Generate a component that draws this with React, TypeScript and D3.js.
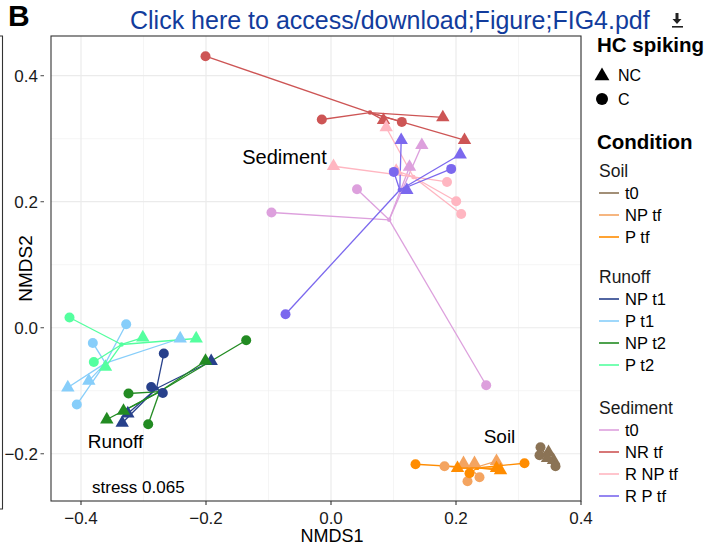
import React from "react";
import * as d3 from "d3";

// ---- Data: [NMDS1, NMDS2, HC spiking] per group ----
const soilT0: [number, number, string][] = [
  [0.3352, -0.1897, "C"], [0.3336, -0.2024, "C"], [0.348, -0.1976, "NC"],
  [0.356, -0.2103, "NC"], [0.3592, -0.2198, "C"], [0.3464, -0.2071, "NC"],
];
const soilNPtf: [number, number, string][] = [
  [0.1816, -0.2198, "C"], [0.212, -0.2151, "NC"], [0.2296, -0.2151, "NC"],
  [0.2184, -0.2437, "C"], [0.2376, -0.2373, "C"], [0.2648, -0.2119, "NC"],
];
const soilPtf: [number, number, string][] = [
  [0.1352, -0.2167, "C"], [0.2024, -0.223, "NC"], [0.2216, -0.231, "C"],
  [0.2648, -0.223, "NC"], [0.2712, -0.2262, "NC"], [0.3096, -0.2151, "C"],
];
const runoffNPt1: [number, number, string][] = [
  [-0.2675, -0.041, "C"], [-0.2877, -0.094, "C"], [-0.2691, -0.1035, "C"],
  [-0.1917, -0.0532, "NC"], [-0.3251, -0.1362, "NC"], [-0.3341, -0.1511, "NC"],
];
const runoffPt1: [number, number, string][] = [
  [-0.3277, 0.0056, "C"], [-0.3811, -0.0241, "C"], [-0.2413, -0.0171, "NC"],
  [-0.4211, -0.0949, "NC"], [-0.3875, -0.0844, "NC"], [-0.4067, -0.1219, "C"],
];
const runoffNPt2: [number, number, string][] = [
  [-0.1357, -0.0198, "C"], [-0.2008, -0.0527, "NC"], [-0.324, -0.1044, "C"],
  [-0.332, -0.1321, "NC"], [-0.3587, -0.1457, "NC"], [-0.2925, -0.1532, "C"],
];
const runoffPt2: [number, number, string][] = [
  [-0.4184, 0.0162, "C"], [-0.3011, -0.0156, "NC"], [-0.2157, -0.0171, "NC"],
  [-0.3795, -0.0543, "C"], [-0.3608, -0.0622, "NC"],
];
const sedT0: [number, number, string][] = [
  [-0.0952, 0.1829, "C"], [0.0416, 0.2198, "C"], [0.1453, 0.2897, "NC"],
  [0.1256, 0.2552, "NC"], [0.2483, -0.0913, "C"],
];
const sedNRtf: [number, number, string][] = [
  [-0.2008, 0.431, "C"], [-0.0147, 0.3305, "C"], [0.084, 0.3294, "NC"],
  [0.1133, 0.3267, "C"], [0.1789, 0.3337, "NC"], [0.2136, 0.2976, "NC"],
];
const sedRNPtf: [number, number, string][] = [
  [0.0883, 0.3178, "NC"], [0.004, 0.2563, "NC"], [0.1043, 0.2489, "NC"],
  [0.1856, 0.2314, "C"], [0.2003, 0.2008, "C"], [0.2083, 0.1806, "C"],
];
const sedRPtf: [number, number, string][] = [
  [0.1123, 0.2976, "NC"], [0.2067, 0.2749, "NC"], [0.1923, 0.2521, "C"],
  [0.1005, 0.2473, "C"], [0.1213, 0.2183, "NC"], [-0.0728, 0.0214, "C"],
];

const xTicks = [-0.4, -0.2, 0.0, 0.2, 0.4];
const xMinor = [-0.3, -0.1, 0.1, 0.3];
const yTicks = [-0.2, 0.0, 0.2, 0.4];
const yMinor = [-0.1, 0.1, 0.3];

const legendSections = ["Soil", "Runoff", "Sediment"];
const soilLabels = ["t0", "NP tf", "P tf"];
const runoffLabels = ["NP t1", "P t1", "NP t2", "P t2"];
const sedLabels = ["t0", "NR tf", "R NP tf", "R P tf"];
const soilColors = ["#8B7355", "#F4A460", "#FF8C00"];
const runoffColors = ["#27408B", "#87CEFA", "#228B22", "#54FF9F"];
const sedColors = ["#DDA0DD", "#CD5555", "#FFB6C1", "#7B68EE"];

const groups = [
  { pts: soilT0, color: soilColors[0] },
  { pts: soilNPtf, color: soilColors[1] },
  { pts: soilPtf, color: soilColors[2] },
  { pts: runoffNPt1, color: runoffColors[0] },
  { pts: runoffPt1, color: runoffColors[1] },
  { pts: runoffNPt2, color: runoffColors[2] },
  { pts: runoffPt2, color: runoffColors[3] },
  { pts: sedT0, color: sedColors[0] },
  { pts: sedNRtf, color: sedColors[1] },
  { pts: sedRNPtf, color: sedColors[2] },
  { pts: sedRPtf, color: sedColors[3] },
];

const FONT = "'Liberation Sans', Arial, Helvetica, sans-serif";

export default function App() {
  const W = 704, H = 546;
  const left = 51, right = 581, top = 36, bottom = 501;
  const x = d3.scaleLinear().domain([-0.448, 0.4]).range([left, right]);
  const y = d3.scaleLinear().domain([-0.275, 0.463]).range([bottom, top]);
  const tri = d3.symbol().type(d3.symbolTriangle).size(78)();
  const legTri = d3.symbol().type(d3.symbolTriangle).size(95)();
  const fmt = d3.format(".1f");

  const legendBlocks = [
    { title: legendSections[0], labels: soilLabels, colors: soilColors, y0: 171 },
    { title: legendSections[1], labels: runoffLabels, colors: runoffColors, y0: 277 },
    { title: legendSections[2], labels: sedLabels, colors: sedColors, y0: 408 },
  ];

  return (
    <svg width={W} height={H} style={{ position: "fixed", left: 0, top: 0, background: "#fff" }} fontFamily={FONT}>
      <rect width={W} height={H} fill="#fff" />
      {/* left neighbour panel edge */}
      <path d="M0,36 H2.5 V509 H0" fill="none" stroke="#333" strokeWidth={1.1} />
      {/* header */}
      <text x={8} y={26} fontSize={30} fontWeight="bold" fill="#000">B</text>
      <text x={130} y={29} fontSize={25} fill="#123c9c">Click here to access/download;Figure;FIG4.pdf</text>
      <g fill="#222">
        <path d="M675.5,13 h3 v6 h3 l-4.5,5 l-4.5,-5 h3 z" />
        <rect x={672} y={26} width={11} height={1.6} />
      </g>

      {/* grid */}
      <g>
        {xMinor.map((v) => <line key={"xm" + v} x1={x(v)} x2={x(v)} y1={top} y2={bottom} stroke="#f0f0f0" strokeWidth={0.7} />)}
        {yMinor.map((v) => <line key={"ym" + v} y1={y(v)} y2={y(v)} x1={left} x2={right} stroke="#f0f0f0" strokeWidth={0.7} />)}
        {xTicks.map((v) => <line key={"xM" + v} x1={x(v)} x2={x(v)} y1={top} y2={bottom} stroke="#ebebeb" strokeWidth={1.2} />)}
        {yTicks.map((v) => <line key={"yM" + v} y1={y(v)} y2={y(v)} x1={left} x2={right} stroke="#ebebeb" strokeWidth={1.2} />)}
      </g>

      {/* spider lines */}
      {groups.map((g, gi) => {
        const cx = d3.mean(g.pts, (p) => p[0]) as number;
        const cy = d3.mean(g.pts, (p) => p[1]) as number;
        return (
          <g key={"l" + gi} stroke={g.color} strokeWidth={1.3}>
            {g.pts.map((p, i) => (
              <line key={i} x1={x(cx)} y1={y(cy)} x2={x(p[0])} y2={y(p[1])} />
            ))}
            <circle cx={x(cx)} cy={y(cy)} r={2.2} fill={g.color} stroke="none" />
          </g>
        );
      })}
      {/* points */}
      {groups.map((g, gi) => (
        <g key={"p" + gi} fill={g.color}>
          {g.pts.map((p, i) =>
            p[2] === "NC" ? (
              <path key={i} d={tri} transform={`translate(${x(p[0])},${y(p[1])})`} />
            ) : (
              <circle key={i} cx={x(p[0])} cy={y(p[1])} r={5} />
            )
          )}
        </g>
      ))}

      {/* annotations */}
      <text x={284.5} y={163.5} fontSize={20} textAnchor="middle" fill="#000">Sediment</text>
      <text x={115.5} y={448} fontSize={19} textAnchor="middle" fill="#000">Runoff</text>
      <text x={499.5} y={443} fontSize={19} textAnchor="middle" fill="#000">Soil</text>
      <text x={92} y={493} fontSize={17} fill="#000">stress 0.065</text>

      {/* panel border */}
      <rect x={left} y={top} width={right - left} height={bottom - top} fill="none" stroke="#333" strokeWidth={1.1} />

      {/* axes */}
      {xTicks.map((v) => (
        <g key={"xt" + v}>
          <line x1={x(v)} x2={x(v)} y1={bottom} y2={bottom + 4} stroke="#333" strokeWidth={1.1} />
          <text x={x(v)} y={523.5} fontSize={17} textAnchor="middle" fill="#1a1a1a">{fmt(v)}</text>
        </g>
      ))}
      {yTicks.map((v) => (
        <g key={"yt" + v}>
          <line x1={40.5} x2={44} y1={y(v)} y2={y(v)} stroke="#555" strokeWidth={1.1} />
          <text x={38} y={y(v)} dy="0.35em" fontSize={17} textAnchor="end" fill="#1a1a1a">{fmt(v)}</text>
        </g>
      ))}
      <text x={332} y={542} fontSize={18} textAnchor="middle" fill="#000">NMDS1</text>
      <text transform={`translate(32,${(top + bottom) / 2}) rotate(-90)`} fontSize={19} textAnchor="middle" fill="#000">NMDS2</text>

      {/* legend */}
      <text x={597} y={52} fontSize={20.5} fontWeight="bold" fill="#000">HC spiking</text>
      <path d={legTri} transform="translate(602,76)" fill="#000" />
      <text x={618} y={75} dy="0.35em" fontSize={16} fill="#000">NC</text>
      <circle cx={602} cy={99} r={6} fill="#000" />
      <text x={618} y={99} dy="0.35em" fontSize={16} fill="#000">C</text>

      <text x={597} y={149} fontSize={20.5} fontWeight="bold" fill="#000">Condition</text>
      {legendBlocks.map((b) => (
        <g key={b.title}>
          <text x={599} y={b.y0} dy="0.35em" fontSize={17.5} fill="#1a1a1a">{b.title}</text>
          {b.labels.map((lab, i) => {
            const yy = b.y0 + 22 * (i + 1);
            return (
              <g key={lab}>
                <line x1={599} x2={619} y1={yy} y2={yy} stroke={b.colors[i]} strokeWidth={2} strokeOpacity={0.8} />
                <text x={625} y={yy} dy="0.35em" fontSize={16.5} fill="#000">{lab}</text>
              </g>
            );
          })}
        </g>
      ))}
    </svg>
  );
}
